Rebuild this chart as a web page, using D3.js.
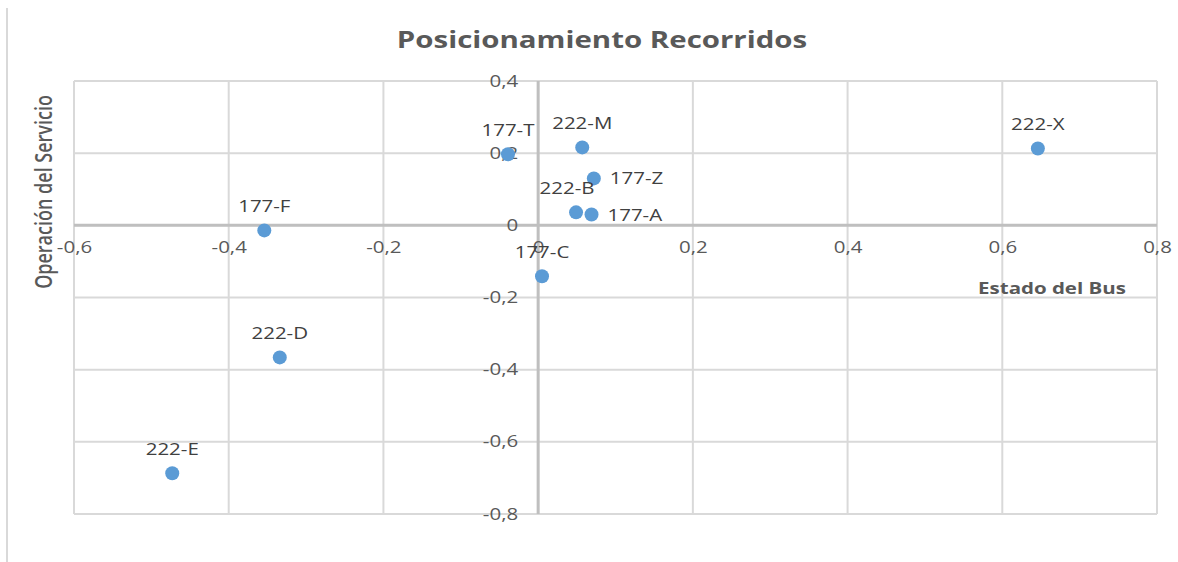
<!DOCTYPE html>
<html>
<head>
<meta charset="utf-8">
<script src="https://cdn.jsdelivr.net/npm/d3@7"></script>
<style>
  body { margin: 0; background: #fff; }
  svg { display: block; font-family: "Open Sans", sans-serif; }
</style>
</head>
<body>
<svg id="chart" width="1178" height="562"></svg>
<script>
// recorridos (labels) and their two scores
const routes = ['177-F', '177-T', '222-M', '177-Z', '222-B', '177-A', '177-C', '222-X', '222-D', '222-E'];
const estadoBus = [-0.354, -0.039, 0.057, 0.072, 0.049, 0.069, 0.005, 0.646, -0.334, -0.473];
const operacion = [-0.014, 0.197, 0.216, 0.130, 0.036, 0.030, -0.141, 0.213, -0.366, -0.687];

const xTicks = [-0.6, -0.4, -0.2, 0, 0.2, 0.4, 0.6, 0.8];
const yTicks = [-0.8, -0.6, -0.4, -0.2, 0, 0.2, 0.4];

const WIDTH = 1178;
const HEIGHT = 562;
const SX = 1.28; // the picture is stretched sideways, so text is too

let svg = d3.select('#chart');

let xScale = d3.scaleLinear().domain([-0.6, 0.8]).range([74, 1157]);
let yScale = d3.scaleLinear().domain([-0.8, 0.4]).range([514, 81]);

let loc = d3.formatLocale({decimal: ',', thousands: '.', grouping: [3], currency: ['', ''], minus: '-'});
let f1 = loc.format('.1f');
let fmt = v => v === 0 ? '0' : f1(v);

// left border of chart area
svg.append('line')
  .attr('x1', 7).attr('x2', 7).attr('y1', 8).attr('y2', HEIGHT)
  .attr('stroke', '#d9d9d9').attr('stroke-width', 2);

// grid
let grid = svg.append('g');
grid.selectAll('.vg').data(xTicks).enter().append('line')
  .attr('x1', d => xScale(d)).attr('x2', d => xScale(d))
  .attr('y1', yScale(0.4)).attr('y2', yScale(-0.8))
  .attr('stroke', '#d9d9d9').attr('stroke-width', 2);
grid.selectAll('.hg').data(yTicks).enter().append('line')
  .attr('x1', xScale(-0.6)).attr('x2', xScale(0.8))
  .attr('y1', d => yScale(d)).attr('y2', d => yScale(d))
  .attr('stroke', '#d9d9d9').attr('stroke-width', 2);

// zero axes
svg.append('line')
  .attr('x1', xScale(-0.6)).attr('x2', xScale(0.8))
  .attr('y1', yScale(0)).attr('y2', yScale(0))
  .attr('stroke', '#bfbfbf').attr('stroke-width', 3);
svg.append('line')
  .attr('x1', xScale(0)).attr('x2', xScale(0))
  .attr('y1', yScale(0.4)).attr('y2', yScale(-0.8))
  .attr('stroke', '#bfbfbf').attr('stroke-width', 3);

// axis labels
let bottomAxis = d3.axisBottom(xScale).tickValues(xTicks).tickFormat(fmt).tickSize(0).tickPadding(16);
let xAxis = svg.append('g')
  .attr('transform', 'translate(0,' + yScale(0) + ')')
  .call(bottomAxis);

let leftAxis = d3.axisLeft(yScale).tickValues(yTicks).tickFormat(fmt).tickSize(0);
let yAxis = svg.append('g')
  .attr('transform', 'translate(' + xScale(0) + ',0)')
  .call(leftAxis);

[xAxis, yAxis].forEach(a => {
  a.select('.domain').remove();
  a.selectAll('text')
    .attr('fill', '#595959')
    .style('font-size', '16px')
    .style('font-family', '"Open Sans", sans-serif')
    .attr('transform', 'scale(' + SX + ',1)');
});
yAxis.selectAll('text').attr('x', -20 / SX);

// points
svg.append('g').selectAll('circle')
  .data(routes).enter().append('circle')
  .attr('cx', (d, i) => xScale(estadoBus[i]))
  .attr('cy', (d, i) => yScale(operacion[i]))
  .attr('r', 7)
  .attr('fill', '#5b9bd5');

// data labels: most above, a couple to the right
const rightSide = new Set(['177-Z', '177-A']);
svg.append('g').selectAll('text')
  .data(routes).enter().append('text')
  .attr('transform', (d, i) => {
    let x = xScale(estadoBus[i]);
    let y = yScale(operacion[i]);
    if (rightSide.has(d)) { x += 16; y += 6; } else { y -= 18; }
    if (d === '222-B') x -= 9;
    return 'translate(' + x + ',' + y + ') scale(' + SX + ',1)';
  })
  .attr('text-anchor', d => rightSide.has(d) ? 'start' : 'middle')
  .attr('fill', '#404040')
  .style('font-size', '16px')
  .text(d => d);

// title
svg.append('text')
  .attr('transform', 'translate(602,48) scale(' + SX + ',1)')
  .attr('text-anchor', 'middle')
  .attr('fill', '#595959')
  .style('font-size', '23px')
  .style('font-weight', 'bold')
  .text('Posicionamiento Recorridos');

// axis titles
svg.append('text')
  .attr('transform', 'translate(1052,294) scale(' + SX + ',1)')
  .attr('text-anchor', 'middle')
  .attr('fill', '#595959')
  .style('font-size', '16px')
  .style('font-weight', 'bold')
  .text('Estado del Bus');

svg.append('text')
  .attr('transform', 'translate(52,192) rotate(-90) scale(1,' + SX + ')')
  .attr('text-anchor', 'middle')
  .attr('fill', '#595959')
  .style('font-size', '18px')
  .style('font-weight', '600')
  .text('Operación del Servicio');
</script>
</body>
</html>
